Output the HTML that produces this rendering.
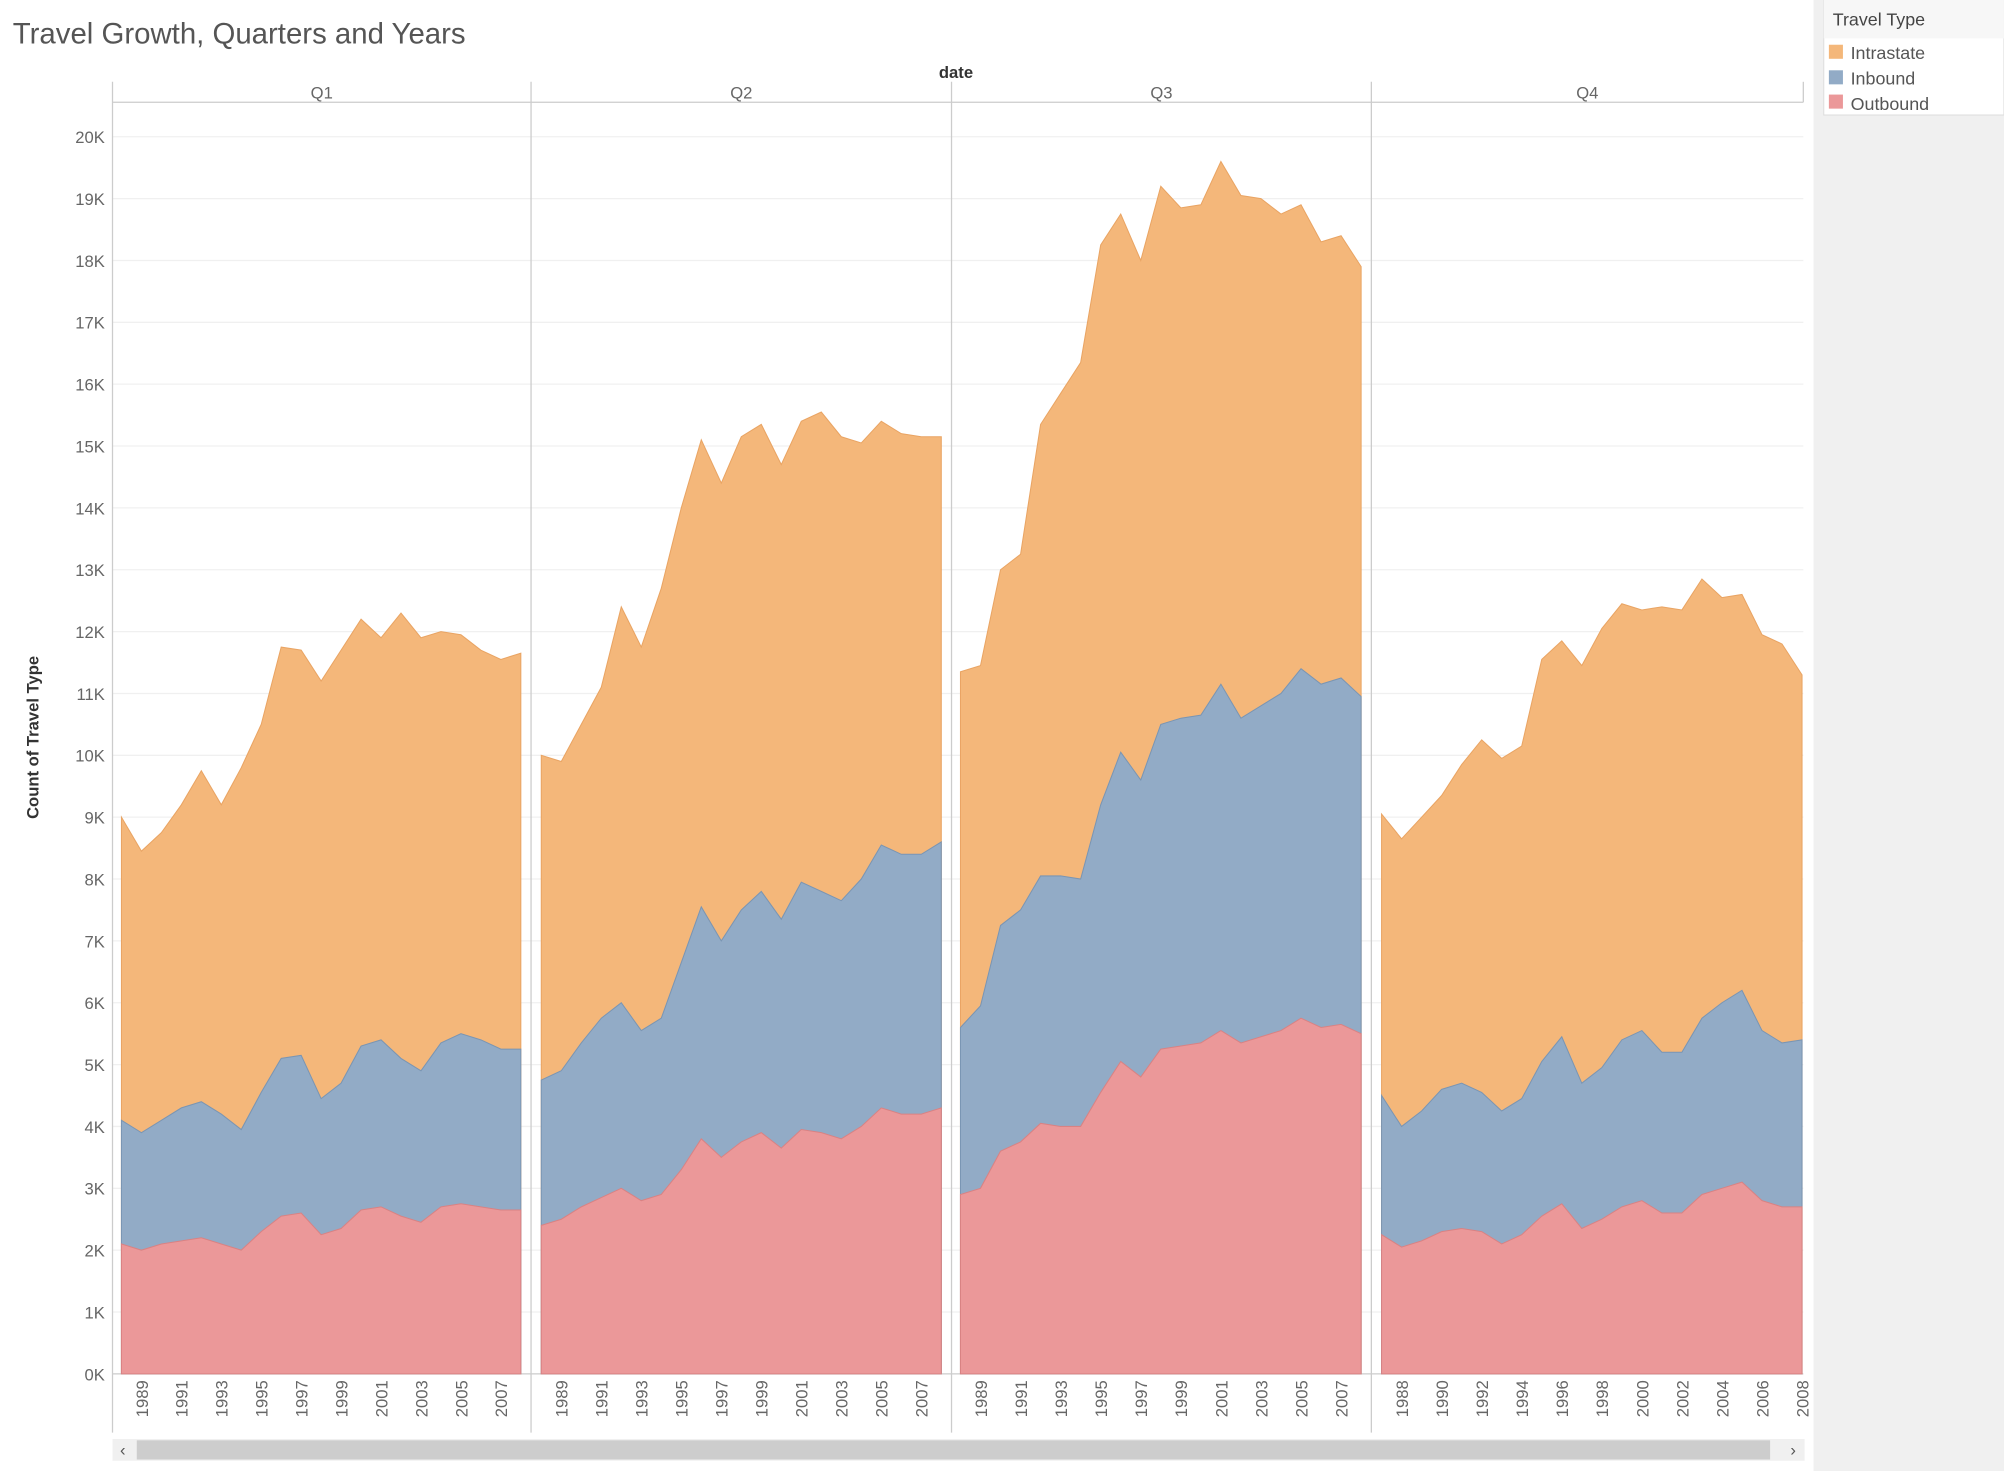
<!DOCTYPE html>
<html><head><meta charset="utf-8"><style>
html,body{margin:0;padding:0;background:#fff;}
svg{display:block;font-family:"Liberation Sans",sans-serif;}
</style></head><body>
<svg id="chart" width="2004" height="1471" viewBox="0 0 1568 1151" xmlns="http://www.w3.org/2000/svg">
<rect x="0" y="0" width="1568" height="1151" fill="#fff"/>
<rect x="1419" y="0" width="149" height="1151" fill="#f0f0f0"/>
<rect x="1427" y="0" width="141" height="90" fill="#fff" stroke="#ddd" stroke-width="0.8"/>
<rect x="1427" y="0" width="141" height="30" fill="#f7f7f7"/>
<text x="1434" y="20" font-size="14" fill="#444">Travel Type</text>
<g><rect x="1431" y="35" width="11" height="11" fill="#f4b77a"/><text x="1448" y="46" font-size="14" fill="#555">Intrastate</text></g>
<g><rect x="1431" y="55" width="11" height="11" fill="#92abc6"/><text x="1448" y="66" font-size="14" fill="#555">Inbound</text></g>
<g><rect x="1431" y="74" width="11" height="11" fill="#eb9899"/><text x="1448" y="86" font-size="14" fill="#555">Outbound</text></g>
<text x="10" y="34" font-size="23" fill="#555">Travel Growth, Quarters and Years</text>
<text x="748" y="61" font-size="13" font-weight="bold" fill="#333" text-anchor="middle">date</text>
<text transform="translate(30,577) rotate(-90)" font-size="13" font-weight="bold" fill="#333" text-anchor="middle">Count of Travel Type</text>
<g id="grid"></g>
<g id="areas"></g>
<g id="frame"></g>
<g>
<rect x="88" y="1126" width="1324" height="17" fill="#f0f0f0"/>
<rect x="107" y="1127" width="1278" height="15" fill="#cdcdcd"/>
<text x="96" y="1139" font-size="13" fill="#555" text-anchor="middle">‹</text>
<text x="1403" y="1139" font-size="13" fill="#555" text-anchor="middle">›</text>
</g>
</svg>
<script>
const NS="http://www.w3.org/2000/svg";
const quarters=["Q1","Q2","Q3","Q4"];
const startYears=[1988,1988,1988,1987];
// stacked readings (thousands): outbound, outbound+inbound, total
const q1Outbound=[2.1,2.0,2.1,2.15,2.2,2.1,2.0,2.3,2.55,2.6,2.25,2.35,2.65,2.7,2.55,2.45,2.7,2.75,2.7,2.65,2.65];
const q1InboundTop=[4.1,3.9,4.1,4.3,4.4,4.2,3.95,4.55,5.1,5.15,4.45,4.7,5.3,5.4,5.1,4.9,5.35,5.5,5.4,5.25,5.25];
const q1Total=[9.0,8.45,8.75,9.2,9.75,9.2,9.8,10.5,11.75,11.7,11.2,11.7,12.2,11.9,12.3,11.9,12.0,11.95,11.7,11.55,11.65];
const q2Outbound=[2.4,2.5,2.7,2.85,3.0,2.8,2.9,3.3,3.8,3.5,3.75,3.9,3.65,3.95,3.9,3.8,4.0,4.3,4.2,4.2,4.3];
const q2InboundTop=[4.75,4.9,5.35,5.75,6.0,5.55,5.75,6.65,7.55,7.0,7.5,7.8,7.35,7.95,7.8,7.65,8.0,8.55,8.4,8.4,8.6];
const q2Total=[10.0,9.9,10.5,11.1,12.4,11.75,12.7,14.0,15.1,14.4,15.15,15.35,14.7,15.4,15.55,15.15,15.05,15.4,15.2,15.15,15.15];
const q3Outbound=[2.9,3.0,3.6,3.75,4.05,4.0,4.0,4.55,5.05,4.8,5.25,5.3,5.35,5.55,5.35,5.45,5.55,5.75,5.6,5.65,5.5];
const q3InboundTop=[5.6,5.95,7.25,7.5,8.05,8.05,8.0,9.2,10.05,9.6,10.5,10.6,10.65,11.15,10.6,10.8,11.0,11.4,11.15,11.25,10.95];
const q3Total=[11.35,11.45,13.0,13.25,15.35,15.85,16.35,18.25,18.75,18.0,19.2,18.85,18.9,19.6,19.05,19.0,18.75,18.9,18.3,18.4,17.9];
const q4Outbound=[2.25,2.05,2.15,2.3,2.35,2.3,2.1,2.25,2.55,2.75,2.35,2.5,2.7,2.8,2.6,2.6,2.9,3.0,3.1,2.8,2.7,2.7];
const q4InboundTop=[4.5,4.0,4.25,4.6,4.7,4.55,4.25,4.45,5.05,5.45,4.7,4.95,5.4,5.55,5.2,5.2,5.75,6.0,6.2,5.55,5.35,5.4];
const q4Total=[9.05,8.65,9.0,9.35,9.85,10.25,9.95,10.15,11.55,11.85,11.45,12.05,12.45,12.35,12.4,12.35,12.85,12.55,12.6,11.95,11.8,11.3];
const yTicks=[0,1,2,3,4,5,6,7,8,9,10,11,12,13,14,15,16,17,18,19,20];

const data=[[q1Outbound,q1InboundTop,q1Total],[q2Outbound,q2InboundTop,q2Total],[q3Outbound,q3InboundTop,q3Total],[q4Outbound,q4InboundTop,q4Total]];
const panels=[[88,415.5],[415.5,744.5],[744.5,1073],[1073,1411]];
const plotPad=[[7,8],[8,8],[7,8],[8,1]];
const y0=1075,pxPerK=48.4;
const y=v=>y0-v*pxPerK;
const grid=document.getElementById('grid'),areas=document.getElementById('areas'),frame=document.getElementById('frame');
function mk(tag,attrs,parent){const e=document.createElementNS(NS,tag);for(const k in attrs)e.setAttribute(k,attrs[k]);parent.appendChild(e);return e;}
yTicks.forEach(t=>{
  const l=mk('line',{x1:88,x2:1411,y1:y(t),y2:y(t),stroke:t===0?'#ccc':'#f0f0f0','stroke-width':1},grid);
  
  
  const tx=mk('text',{x:82,y:y(t)+5,'font-size':13,fill:'#666','text-anchor':'end'},grid);
  tx.textContent=t+'K';
  
  
});
const colors=['#eb9899','#92abc6','#f4b77a'],strokes=['#d98283','#7a95b3','#e9a463'],names=['outbound','inbound','intrastate'];
data.forEach((d,pi)=>{
  const [a,b]=panels[pi];const n=d[0].length;
  const xs0=a+plotPad[pi][0],xs1=b-plotPad[pi][1];
  const x=i=>xs0+(xs1-xs0)*i/(n-1);
  for(let s=2;s>=0;s--){
    let p='M'+x(0)+','+y0;
    for(let i=0;i<n;i++)p+=' L'+x(i)+','+y(d[s][i]);
    p+=' L'+x(n-1)+','+y0+' Z';
    const path=mk('path',{d:p,fill:colors[s],stroke:strokes[s],'stroke-width':0.8},areas);
    
    
  }
  const hd=mk('text',{x:(a+b)/2,y:77,'font-size':13,fill:'#666','text-anchor':'middle'},frame);
  hd.textContent=quarters[pi];
  
  
  for(let i=0;i<n;i++){
    const yr=startYears[pi]+i;
    if(yr%2!==(startYears[pi]+1)%2)continue;
    const tx=mk('text',{transform:'translate('+(x(i)+5)+',1080) rotate(-90)','font-size':13,fill:'#666','text-anchor':'end'},frame);
    tx.textContent=yr;
    
    
  }
});
mk('line',{x1:88,x2:1411,y1:80,y2:80,stroke:'#ccc'},frame);
[88,415.5,744.5,1073].forEach(xv=>{mk('line',{x1:xv,x2:xv,y1:64,y2:1121,stroke:'#ccc'},frame);});
mk('line',{x1:1411,x2:1411,y1:64,y2:80,stroke:'#ccc'},frame);
</script>
</body></html>
